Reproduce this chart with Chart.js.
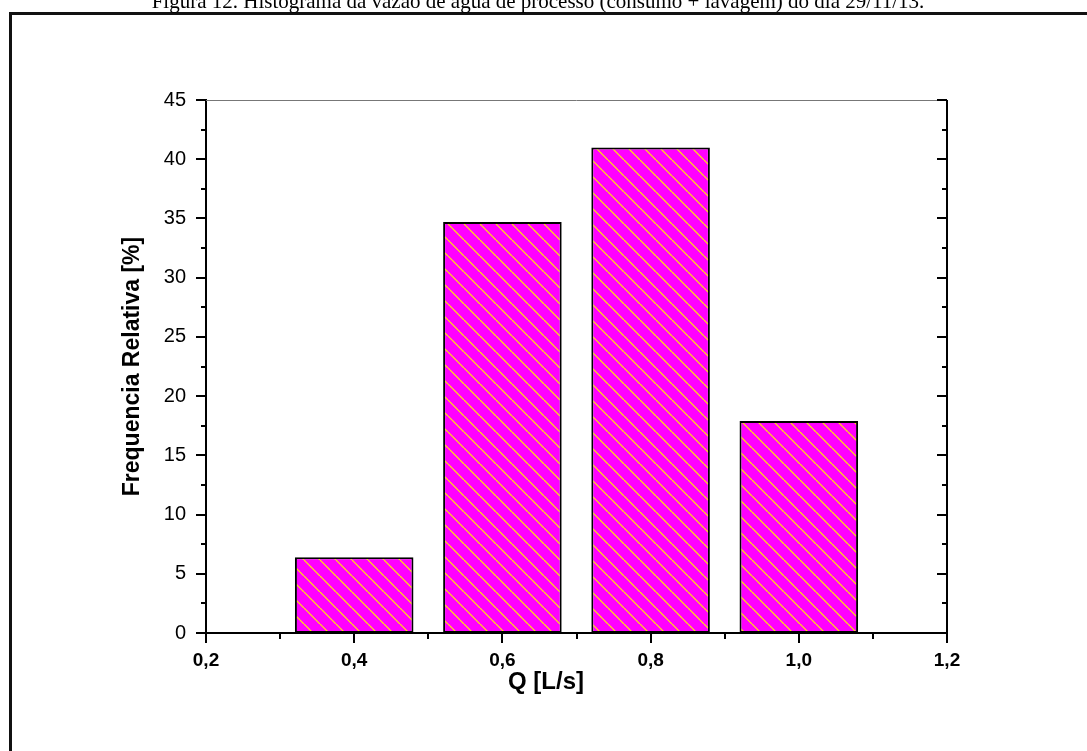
<!DOCTYPE html>
<html>
<head>
<meta charset="utf-8">
<script src="https://cdn.jsdelivr.net/npm/chart.js@4"></script>
<style>
  body { margin: 0; background: #fff; }
  #wrap { position: absolute; left: 0; top: 0; width: 1087px; height: 751px; }
</style>
</head>
<body>
<div id="wrap"><canvas id="histograma"></canvas></div>
<script>
// vazão (L/s) x frequência relativa (%)
const vazao = [0.4, 0.6, 0.8, 1.0];
const freqRelativa = [6.4, 34.7, 41.0, 17.9];
const xTicks = [0.2, 0.4, 0.6, 0.8, 1.0, 1.2];
const yTicks = [0, 5, 10, 15, 20, 25, 30, 35, 40, 45];

const tituloFigura = 'Figura 12. Histograma da vazão de água de processo (consumo + lavagem) do dia 29/11/13.';
const tituloX = 'Q [L/s]';
const tituloY = 'Frequencia Relativa [%]';

const sans = '"Liberation Sans", Arial, sans-serif';
const serif = '"Liberation Serif", "Times New Roman", serif';

// hachura amarela sobre magenta
function criarHachura() {
  const c = document.createElement('canvas');
  c.width = 16; c.height = 16;
  const g = c.getContext('2d');
  g.fillStyle = '#ff00ff';
  g.fillRect(0, 0, 16, 16);
  g.strokeStyle = '#ffee00';
  g.lineWidth = 1.2;
  [-16, 0, 16].forEach(o => {
    g.beginPath();
    g.moveTo(o, 0);
    g.lineTo(o + 16, 16);
    g.stroke();
  });
  return g.createPattern(c, 'repeat');
}

const moldura = {
  id: 'moldura',
  beforeDraw(chart) {
    const ctx = chart.ctx;
    ctx.save();
    ctx.fillStyle = '#fff';
    ctx.fillRect(0, 0, chart.width, chart.height);
    // caixa da figura
    ctx.strokeStyle = '#111';
    ctx.lineWidth = 3;
    ctx.beginPath();
    ctx.moveTo(10.5, chart.height);
    ctx.lineTo(10.5, 13.5);
    ctx.lineTo(chart.width, 13.5);
    ctx.stroke();
    // legenda da figura (cortada no topo)
    ctx.fillStyle = '#000';
    ctx.font = '21px ' + serif;
    ctx.textAlign = 'center';
    ctx.textBaseline = 'alphabetic';
    ctx.fillText(tituloFigura, 538, 8);
    ctx.restore();
  },
  afterDraw(chart) {
    const {ctx, chartArea: a, scales: {x, y}} = chart;
    ctx.save();
    // borda superior fina
    ctx.strokeStyle = '#777';
    ctx.lineWidth = 1;
    ctx.beginPath();
    ctx.moveTo(a.left, a.top + 0.5);
    ctx.lineTo(a.right, a.top + 0.5);
    ctx.stroke();
    // eixo direito
    ctx.strokeStyle = '#000';
    ctx.lineWidth = 2;
    ctx.beginPath();
    ctx.moveTo(a.right, a.top);
    ctx.lineTo(a.right, a.bottom + 1);
    ctx.stroke();
    // marcas do eixo y (esquerda para fora, direita para dentro)
    for (let v = 0; v <= 45; v += 2.5) {
      const py = Math.round(y.getPixelForValue(v));
      const len = v % 5 === 0 ? 10 : 5;
      ctx.beginPath();
      ctx.moveTo(a.left - len, py);
      ctx.lineTo(a.left, py);
      ctx.moveTo(a.right - len, py);
      ctx.lineTo(a.right, py);
      ctx.stroke();
    }
    // marcas do eixo x
    for (let i = 2; i <= 12; i++) {
      const px = Math.round(x.getPixelForValue(i / 10));
      const len = i % 2 === 0 ? 10 : 6;
      ctx.beginPath();
      ctx.moveTo(px, a.bottom);
      ctx.lineTo(px, a.bottom + len);
      ctx.stroke();
    }
    // título do eixo x
    ctx.fillStyle = '#000';
    ctx.font = 'bold 24px ' + sans;
    ctx.textAlign = 'center';
    ctx.textBaseline = 'alphabetic';
    ctx.fillText(tituloX, 546, 689);
    ctx.restore();
  }
};

new Chart(document.getElementById('histograma'), {
  type: 'bar',
  data: {
    datasets: [{
      data: vazao.map((q, i) => ({x: q, y: freqRelativa[i]})),
      backgroundColor: criarHachura(),
      borderColor: '#000',
      borderWidth: 2,
      borderSkipped: false,
      barPercentage: 0.8,
      categoryPercentage: 1.0
    }]
  },
  options: {
    responsive: true,
    maintainAspectRatio: false,
    animation: false,
    layout: { padding: { left: 119, right: 140, top: 100, bottom: 0 } },
    plugins: { legend: { display: false }, tooltip: { enabled: false } },
    scales: {
      x: {
        type: 'linear',
        offset: false,
        min: 0.2,
        max: 1.2,
        afterBuildTicks: s => { s.ticks = xTicks.map(v => ({value: v})); },
        afterFit: s => { s.height = 118; },
        grid: { display: false, offset: false, drawTicks: true, tickLength: 10 },
        border: { display: true, color: '#000', width: 2 },
        ticks: {
          color: '#000',
          padding: 6,
          maxRotation: 0,
          font: { family: sans, size: 19, weight: 'bold' },
          callback: v => v.toFixed(1).replace('.', ',')
        }
      },
      y: {
        min: 0,
        max: 45,
        afterBuildTicks: s => { s.ticks = yTicks.map(v => ({value: v})); },
        afterFit: s => { s.width = 87; },
        grid: { display: false, drawTicks: true, tickLength: 10 },
        border: { display: true, color: '#000', width: 2 },
        ticks: {
          color: '#000',
          padding: 10,
          font: { family: sans, size: 20 }
        },
        title: {
          display: true,
          text: tituloY,
          color: '#000',
          padding: 0,
          font: { family: sans, size: 23, weight: 'bold' }
        }
      }
    }
  },
  plugins: [moldura]
});
</script>
</body>
</html>
